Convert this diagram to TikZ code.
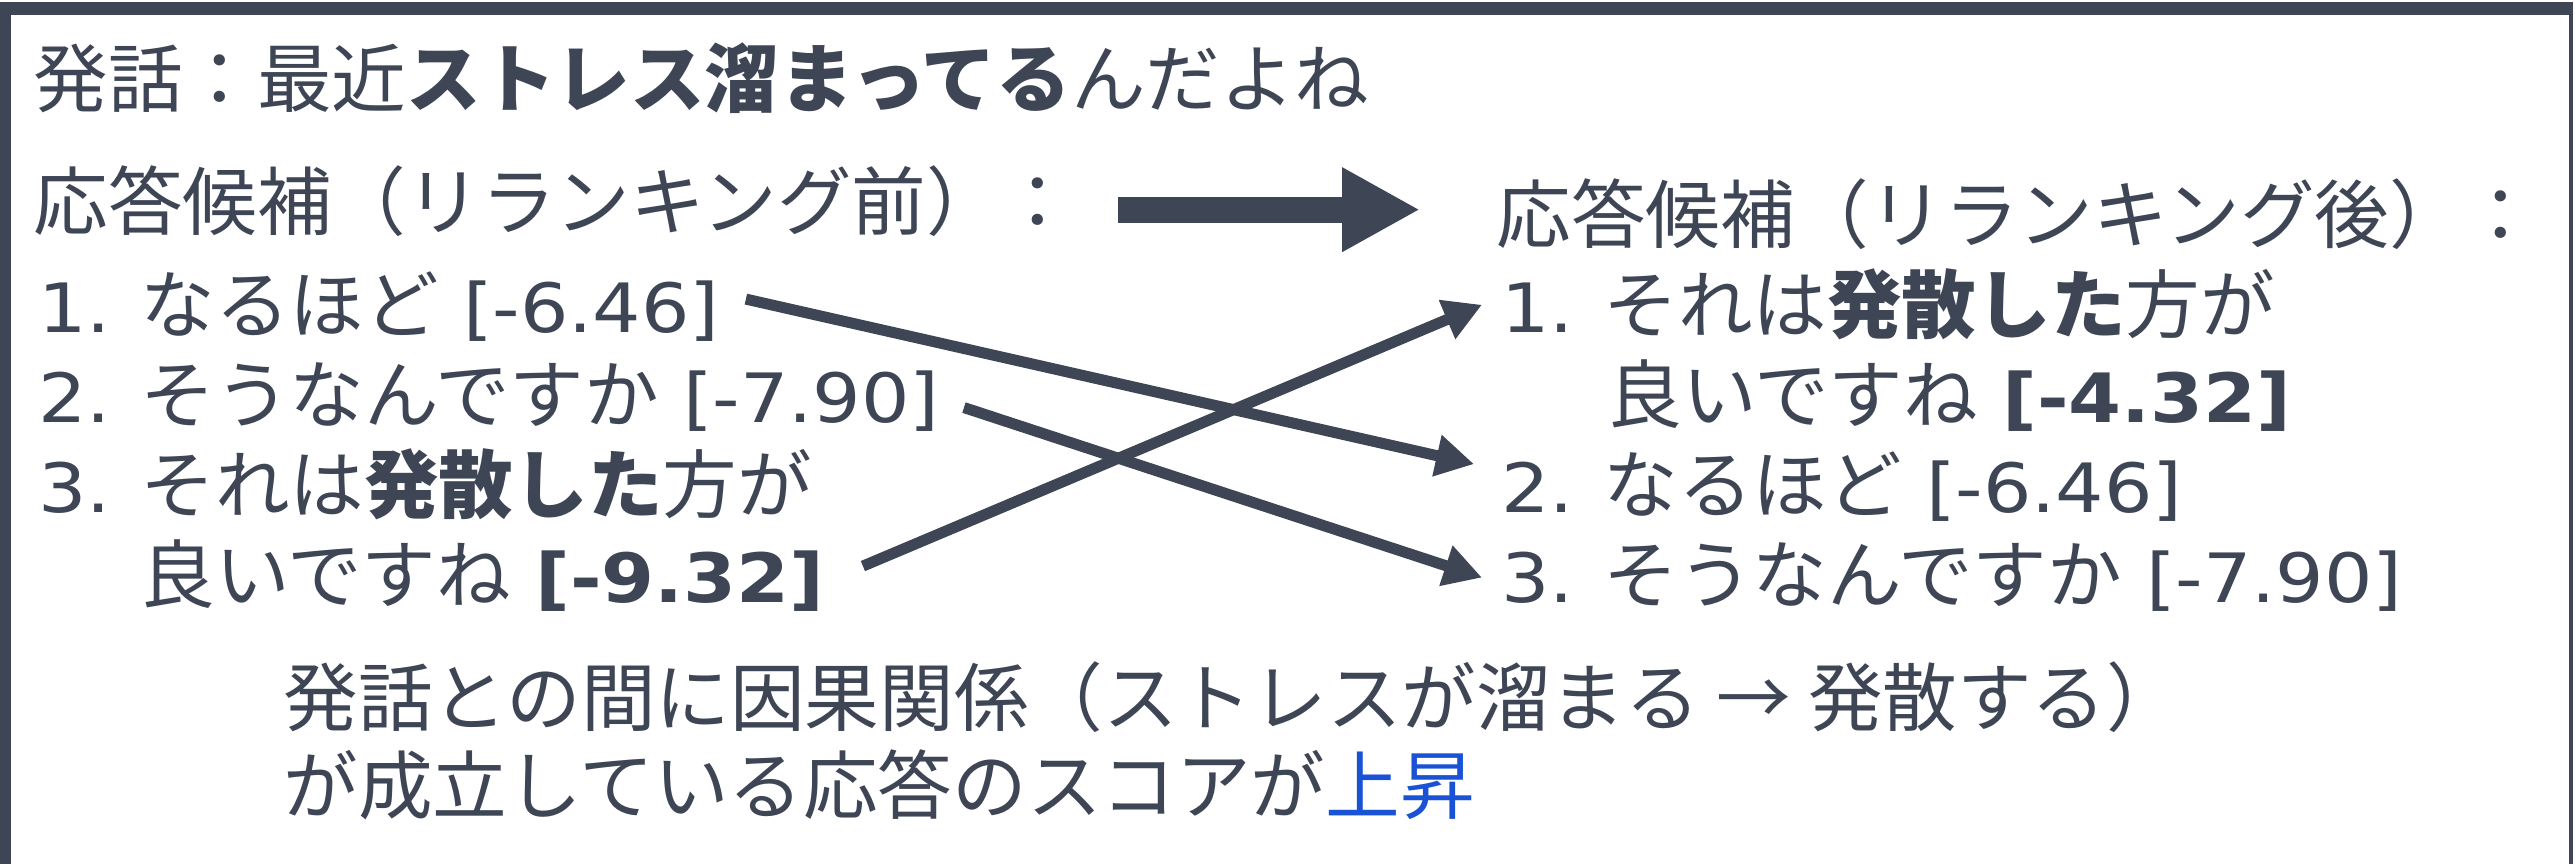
\documentclass[tikz,border=0pt]{standalone}
\usepackage{fontspec}
\setmainfont{Noto Sans CJK JP}
\newfontfamily\latf[FakeStretch=1.12]{DejaVu Sans}
\usetikzlibrary{arrows.meta,calc}
\definecolor{ink}{RGB}{62,69,85}
\definecolor{upblue}{RGB}{26,82,214}
\newcommand{\lt}[1]{{\latf\fontsize{34pt}{40pt}\selectfont #1}}
\newcommand{\numbox}[1]{\makebox[51pt][l]{\lt{#1}}}
\begin{document}
\begin{tikzpicture}[x=0.5pt,y=-0.5pt,
  txt/.style={anchor=base west, inner sep=0pt, text=ink, font=\fontsize{37.3pt}{45pt}\selectfont},
  conn/.style={draw=ink, line width=5.5pt, -{Triangle[length=19pt,width=20pt]}},
  bigarrow/.style={draw=ink, line width=13pt, -{Triangle[length=39pt,width=39.5pt]}},
  frame/.style={fill=ink, draw=none}]
\useasboundingbox (0,0) rectangle (2575,864);
% frame (cropped thick border)
\fill[frame] (0,2) rectangle (2573,15);
\fill[frame] (0,2) rectangle (11,864);
\fill[frame] (2569,2) rectangle (2573,864);
% texts
\node[txt] (utt) at (33,106) {発話：最近\textbf{ストレス溜まってる}んだよね};
\node[txt] (hl) at (33,229) {応答候補（リランキング前）：};
\node[txt] (hr) at (1496,242) {応答候補（リランキング後）：};
\node[txt] (l1) at (38,332) {\numbox{1.}なるほど\lt{~[-6.46]}};
\node[txt] (l2) at (38,422) {\numbox{2.}そうなんですか\lt{~[-7.90]}};
\node[txt] (l3) at (38,512) {\numbox{3.}それは\textbf{発散した}方が};
\node[txt] (l4) at (140,602) {良いですね\lt{~\textbf{[-9.32]}}};
\node[txt] (r1) at (1501,332) {\numbox{1.}それは\textbf{発散した}方が};
\node[txt] (r2) at (1607,422) {良いですね\lt{~\textbf{[-4.32]}}};
\node[txt] (r3) at (1501,512) {\numbox{2.}なるほど\lt{~[-6.46]}};
\node[txt] (r4) at (1501,602) {\numbox{3.}そうなんですか\lt{~[-7.90]}};
\node[txt] (n1) at (283,725) {発話との間に因果関係（ストレスが溜まる → 発散する）};
\node[txt] (n2) at (283,813) {が成立している応答のスコアが\textcolor{upblue}{上昇}};
% big arrow
\draw[bigarrow] ($(hl.east)+(42,9)$) -- ($(hl.east -| hr.west)+(-76,9)$);
% reranking arrows
\draw[conn] ($(l1.east)+(26,-7)$) -- ($(r3.west)+(-27,-22)$);
\draw[conn] ($(l2.east)+(24,11)$) -- ($(r4.west)+(-19,1)$);
\draw[conn] ($(l4.east)+(38,-9)$) -- ($(r1.west)+(-19,1)$);
\end{tikzpicture}
\end{document}
